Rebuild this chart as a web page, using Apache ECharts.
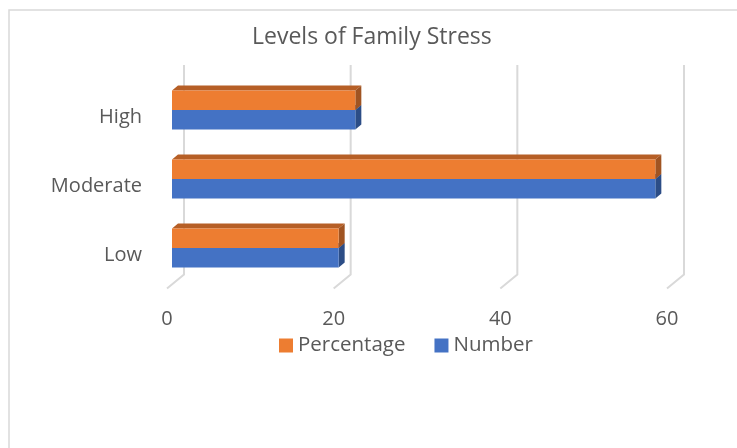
<!DOCTYPE html>
<html>
<head>
<meta charset="utf-8">
<script src="https://cdn.jsdelivr.net/npm/echarts@6/dist/echarts.min.js"></script>
<style>
  html, body { margin: 0; padding: 0; background: #fff; }
  #main { width: 737px; height: 448px; }
</style>
</head>
<body>
<div id="main"></div>
<script>
var categories = ["Low", "Moderate", "High"];
var numberValues = [20, 58, 22];
var percentageValues = [20, 58, 22];
var xTicks = [0, 20, 40, 60];

var chartDom = document.getElementById("main");
var myChart = echarts.init(chartDom);

var font = "'Open Sans', sans-serif";
var textColor = "#595959";
var DX = 6, DY = -5;

// bar drawn with a little depth, like the excel 3d bars
function bar3d(above, front, topC, side) {
  return function (params, api) {
    var start = api.coord([0, api.value(1)]);
    var end = api.coord([api.value(0), api.value(1)]);
    var band = api.size([0, 1])[1];
    var h = band * 0.283;
    var y0 = above ? start[1] - h : start[1];
    var y1 = y0 + h;
    var x0 = start[0], x1 = end[0];
    return {
      type: "group",
      children: [
        { type: "polygon", shape: { points: [[x0, y0], [x0 + DX, y0 + DY], [x1 + DX, y0 + DY], [x1, y0]] }, style: { fill: topC } },
        { type: "polygon", shape: { points: [[x1, y0], [x1 + DX, y0 + DY], [x1 + DX, y1 + DY], [x1, y1]] }, style: { fill: side } },
        { type: "rect", shape: { x: x0, y: y0, width: x1 - x0, height: h }, style: { fill: front } }
      ]
    };
  };
}

var option = {
  animation: false,
  title: {
    text: "Levels of Family Stress",
    left: 252,
    top: 26,
    padding: 0,
    textStyle: { fontFamily: font, fontSize: 23, fontWeight: "normal", color: textColor }
  },
  legend: {
    data: ["Percentage", "Number"],
    left: 279,
    top: 335,
    padding: 0,
    itemWidth: 14,
    itemHeight: 14,
    itemGap: 29,
    icon: "rect",
    textStyle: { fontFamily: font, fontSize: 20.5, color: textColor }
  },
  graphic: [
    { type: "rect", shape: { x: 9, y: 10, width: 740, height: 450 }, style: { fill: null, stroke: "#d9d9d9", lineWidth: 1.5 }, silent: true }
  ],
  grid: { left: 172, width: 500, top: 75.5, height: 207 },
  xAxis: {
    type: "value",
    min: 0,
    max: 60,
    interval: 20,
    axisLine: { show: false },
    axisTick: { show: false },
    splitLine: { show: false },
    axisLabel: { fontFamily: font, fontSize: 20, color: textColor, margin: 27, padding: [0, 10, 0, 0] }
  },
  yAxis: {
    type: "category",
    data: categories,
    axisLine: { show: false },
    axisTick: { show: false },
    axisLabel: { fontFamily: font, fontSize: 20, color: textColor, margin: 30, verticalAlign: "top", lineHeight: 14 }
  },
  series: [
    {
      name: "grid",
      type: "custom",
      silent: true,
      z: 1,
      data: xTicks.map(function (t) { return [t, 0]; }),
      encode: { x: 0, y: 1 },
      renderItem: function (params, api) {
        var x = api.coord([api.value(0), 0])[0];
        var cs = params.coordSys;
        var top = cs.y - 10.5;
        var floorY = cs.y + cs.height - 8;
        return {
          type: "polyline",
          shape: { points: [[x + 12, top], [x + 12, floorY], [x - 5, floorY + 14]] },
          style: { stroke: "#d9d9d9", lineWidth: 2, fill: null }
        };
      }
    },
    {
      name: "Number",
      type: "custom",
      z: 2,
      itemStyle: { color: "#4472c4" },
      data: numberValues.map(function (v, i) { return [v, i]; }),
      encode: { x: 0, y: 1 },
      renderItem: bar3d(false, "#4472c4", "#3a63ad", "#2c4d86")
    },
    {
      name: "Percentage",
      type: "custom",
      z: 3,
      itemStyle: { color: "#ed7d31" },
      data: percentageValues.map(function (v, i) { return [v, i]; }),
      encode: { x: 0, y: 1 },
      renderItem: bar3d(true, "#ed7d31", "#b65f26", "#a05422")
    }
  ]
};

option && myChart.setOption(option);
</script>
</body>
</html>
